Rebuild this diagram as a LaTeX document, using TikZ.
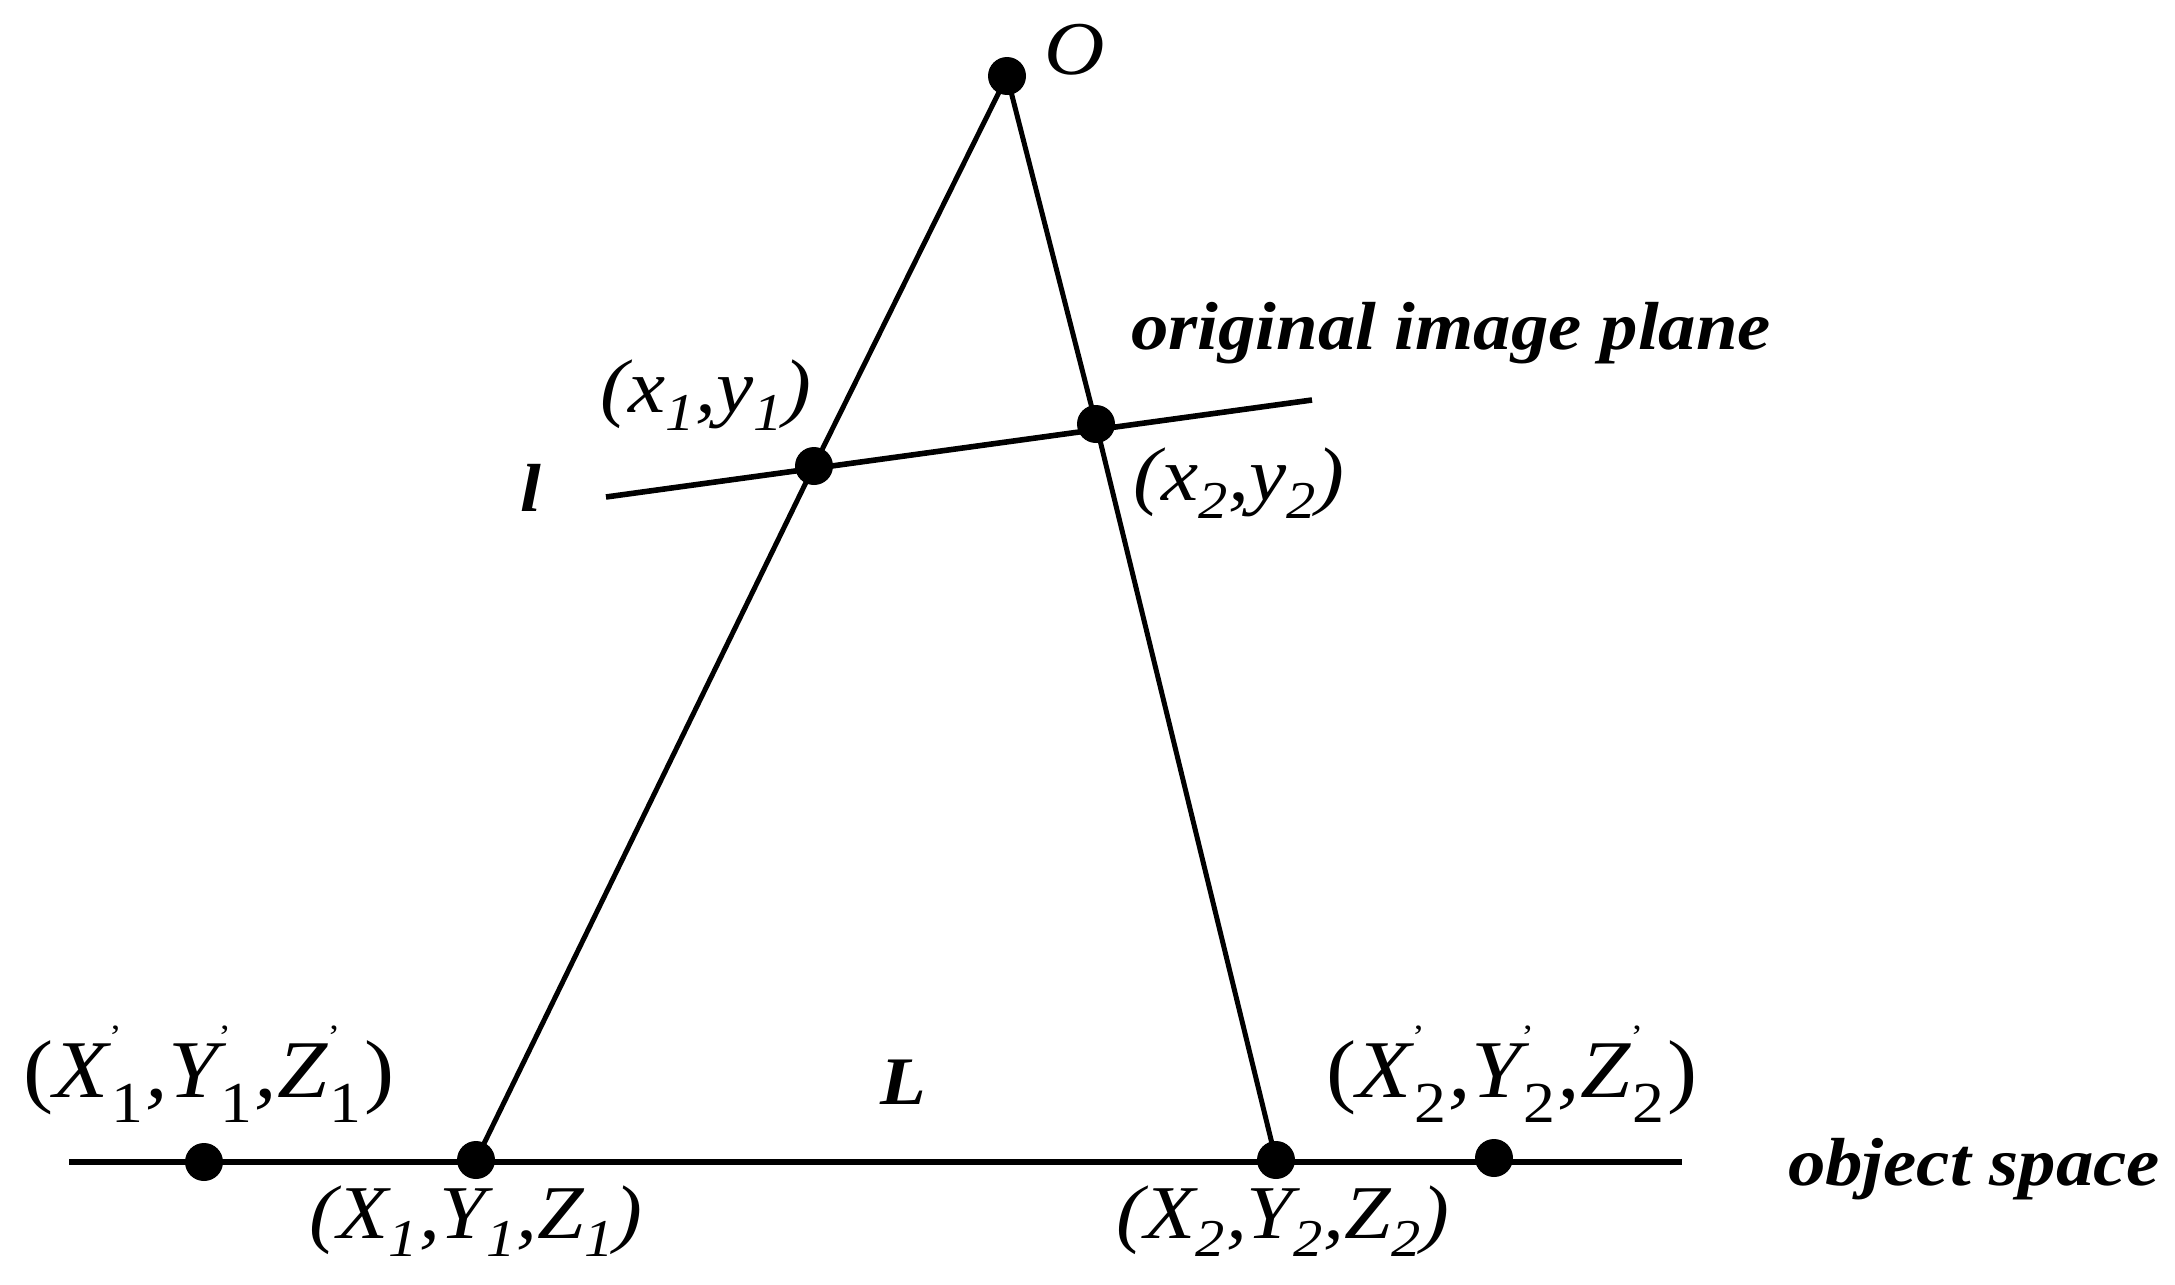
\documentclass[tikz,border=0pt]{standalone}
\usepackage{fontspec}
\usepackage{graphicx}
\setmainfont{Liberation Serif}[FakeStretch=1.1]
\newcommand\pq[2]{\textit{#1}\rlap{\raisebox{0.6em}{\fontsize{17}{17}\selectfont\upshape'}}\raisebox{-0.3em}{\fontsize{29}{29}\selectfont\upshape\hspace{0.04em}#2\hspace{0.04em}}}
\begin{document}
\begin{tikzpicture}[x=0.5pt,y=-0.5pt,
  dot/.style={circle,fill=black,inner sep=0pt,minimum size=19pt},
  ray/.style={line width=2.5pt},
  plane/.style={line width=2.8pt},
  lab/.style={inner sep=0pt,font=\fontsize{38}{44}\selectfont\itshape},
  plab/.style={inner sep=0pt,font=\fontsize{41}{46}\selectfont\itshape},
  blab/.style={inner sep=0pt,font=\fontsize{34}{40}\selectfont\bfseries\itshape}]
\useasboundingbox[fill=white] (0,0) rectangle (2175,1285);
% coordinates
\coordinate (lA) at (606,497);
\coordinate (lB) at (1312,400);
\coordinate (bA) at (69,1162);
\coordinate (bB) at (1682,1162);
% lines
\draw[plane] (lA) -- (lB);
\draw[plane] (bA) -- (bB);
% dots
\node[dot] (O) at (1007,76) {};
\node[dot] (p1) at (814,466) {};
\node[dot] (p2) at (1096,424) {};
\node[dot] (Q1p) at (204,1162) {};
\node[dot] (Q1) at (476,1160) {};
\node[dot] (Q2) at (1276,1160) {};
\node[dot] (Q2p) at (1494,1158) {};
\draw[ray] (O.center) -- (p1.center) -- (Q1.center);
\draw[ray] (O.center) -- (p2.center) -- (Q2.center);
% labels
\node[lab] (tO) at (1075,50) {O};
\node[blab] (tl) at (531,488) {l};
\node[blab] (tL) at (903,1082) {L};
\node[blab] (tplane) at (1451,333) {original image plane};
\node[blab] (tobj) at (1974,1169) {object space};
\node[lab] (tp1) at (706,395) {(x\textsubscript{1},y\textsubscript{1})};
\node[lab] (tp2) at (1239,483) {(x\textsubscript{2},y\textsubscript{2})};
\node[lab] (tQ1) at (476,1221) {(X\textsubscript{1},Y\textsubscript{1},Z\textsubscript{1})};
\node[lab] (tQ2) at (1283,1221) {(X\textsubscript{2},Y\textsubscript{2},Z\textsubscript{2})};
\node[plab] (tQ1p) at (209,1074) {{\upshape(}\pq{X}{1},\pq{Y}{1},\pq{Z}{1}{\upshape)}};
\node[plab] (tQ2p) at (1512,1074) {{\upshape(}\pq{X}{2},\pq{Y}{2},\pq{Z}{2}{\upshape)}};
\end{tikzpicture}
\end{document}
